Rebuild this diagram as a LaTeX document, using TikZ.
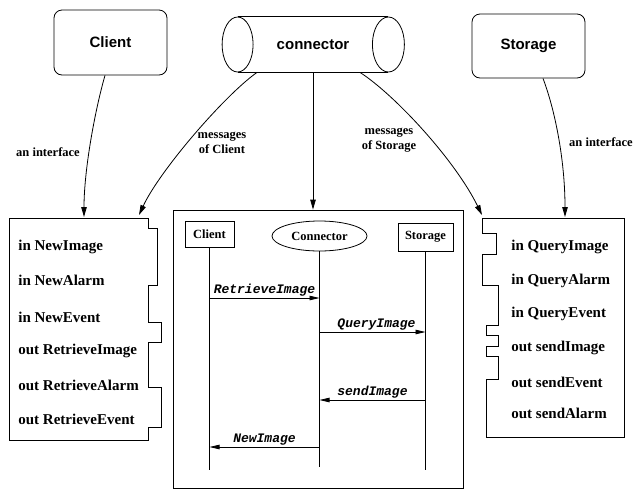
\documentclass[tikz,border=0pt]{standalone}
\usepackage{fontspec}
\setmainfont{Liberation Serif}
\setsansfont{Liberation Sans}
\setmonofont{Liberation Mono}
\usetikzlibrary{arrows.meta, positioning, shapes.geometric}

\begin{document}
\begin{tikzpicture}[
    x=1pt, y=-1pt,
    line width=0.8pt,
    >={Triangle[length=10pt,width=5.5pt]},
    comp/.style={draw, rounded corners=8pt, minimum width=113pt, minimum height=65pt, font=\fontsize{15}{18}\sffamily\bfseries},
    lbl_text/.style={font=\fontsize{12.5}{15}\selectfont\bfseries, align=center},
    port_text/.style={anchor=west, inner sep=0pt, font=\fontsize{15}{18}\selectfont\bfseries},
    actor/.style={draw, inner sep=2pt, font=\fontsize{12.5}{14}\selectfont\bfseries},
    msg/.style={->, >={Triangle[length=10pt,width=4.5pt]}},
    msg_text/.style={font=\fontsize{13}{15}\ttfamily\bfseries\itshape, inner sep=1.5pt}
]
    \useasboundingbox (0,0) rectangle (642,491);

    % === 1. Components ===
    \node[comp] (client) at (110.5,42.5) {Client};
    \node[comp, minimum height=64pt] (storage) at (528.5,46) {Storage};

    % Connector pipe
    \node[minimum width=150pt, minimum height=55pt, font=\fontsize{15}{18}\sffamily\bfseries] (conn) at (313,44.5) {connector};
    \draw (conn.north west) -- (conn.north east) (conn.south west) -- (conn.south east);
    \draw (conn.west) ellipse [x radius=15.5, y radius=27.5];
    \draw (conn.east) ellipse [x radius=16, y radius=27.5];

    % === 2. Interfaces ===
    \draw (9,218) -- (148,218) -- (148,228) -- (157,228) -- (157,285) -- (148,285)
        -- (148,322) -- (161,322) -- (161,342) -- (148,342) -- (148,387) -- (161,387)
        -- (161,427) -- (148,427) -- (148,440) -- (9,440) -- cycle;
    \node[port_text] (p1) at (18,247) {in NewImage};
    \node[port_text] (p2) at (18,280) {in NewAlarm};
    \node[port_text] (p3) at (18,317) {in NewEvent};
    \node[port_text] (p4) at (18,351) {out RetrieveImage};
    \node[port_text] (p5) at (18,385) {out RetrieveAlarm};
    \node[port_text] (p6) at (18,419) {out RetrieveEvent};

    \draw (482,218) -- (624,218) -- (624,437) -- (486,437) -- (486,379) -- (498,379)
        -- (498,356) -- (486,356) -- (486,346) -- (498,346) -- (498,335) -- (486,335)
        -- (486,325) -- (498,325) -- (498,285) -- (482,285) -- (482,254) -- (496,254)
        -- (496,233) -- (482,233) -- cycle;
    \node[port_text] (q1) at (511,247) {in QueryImage};
    \node[port_text] (q2) at (511,281) {in QueryAlarm};
    \node[port_text] (q3) at (511,314) {in QueryEvent};
    \node[port_text] (q4) at (511,348) {out sendImage};
    \node[port_text] (q5) at (511,382) {out sendEvent};
    \node[port_text] (q6) at (511,413) {out sendAlarm};

    % === 3. Sequence ===
    \node[draw, minimum width=290pt, minimum height=278pt] (seq) at (318,349) {};
    \node[actor, minimum width=49pt, minimum height=26pt] (cl) at (209.5,234) {Client};
    \node[actor, ellipse, minimum width=95pt, minimum height=30pt] (cn) at (319.5,236) {Connector};
    \node[actor, minimum width=55pt, minimum height=28pt] (st) at (425.5,237) {Storage};

    % Lifelines
    \draw (cl.south) -- (cl.south |- 0,470);
    \draw (cn.south) -- (cn.south |- 0,467);
    \draw (st.south) -- (st.south |- 0,470);

    % Messages
    \draw[msg] (cl.south |- 0,298) -- (cn.south |- 0,298) node[msg_text, midway, above] {RetrieveImage};
    \draw[msg] (cn.south |- 0,332) -- (st.south |- 0,332) node[msg_text, midway, above, xshift=4pt] {QueryImage};
    \draw[msg] (st.south |- 0,400) -- (cn.south |- 0,400) node[msg_text, midway, above] {sendImage};
    \draw[msg] (cn.south |- 0,447) -- (cl.south |- 0,447) node[msg_text, midway, above] {NewImage};

    % === 4. Links ===
    \coordinate (l_in) at (84,217);
    \coordinate (l_msg) at (139,215);
    \coordinate (r_msg) at (482,215);
    \coordinate (r_in) at (565,217);

    \draw[->] ([xshift=-5.5pt]client.south) .. controls (95,110) and (84,170) .. (l_in);
    \draw[->] ([xshift=-56pt]conn.south) .. controls (225,95) and (160,170) .. (l_msg);
    \draw[->] (conn.south) -- (conn.south |- seq.north);
    \draw[->] ([xshift=47pt]conn.south) .. controls (395,95) and (455,160) .. (r_msg);
    \draw[->] ([xshift=14.5pt]storage.south) .. controls (555,110) and (565,160) .. (r_in);

    % Labels
    \node[lbl_text] (if_l) at (48,152) {an interface};
    \node[lbl_text] (msg_l) at (222,143) {messages\\of Client};
    \node[lbl_text] (msg_r) at (389,140) {messages\\of Storage};
    \node[lbl_text] (if_r) at (601,142) {an interface};

\end{tikzpicture}
\end{document}
